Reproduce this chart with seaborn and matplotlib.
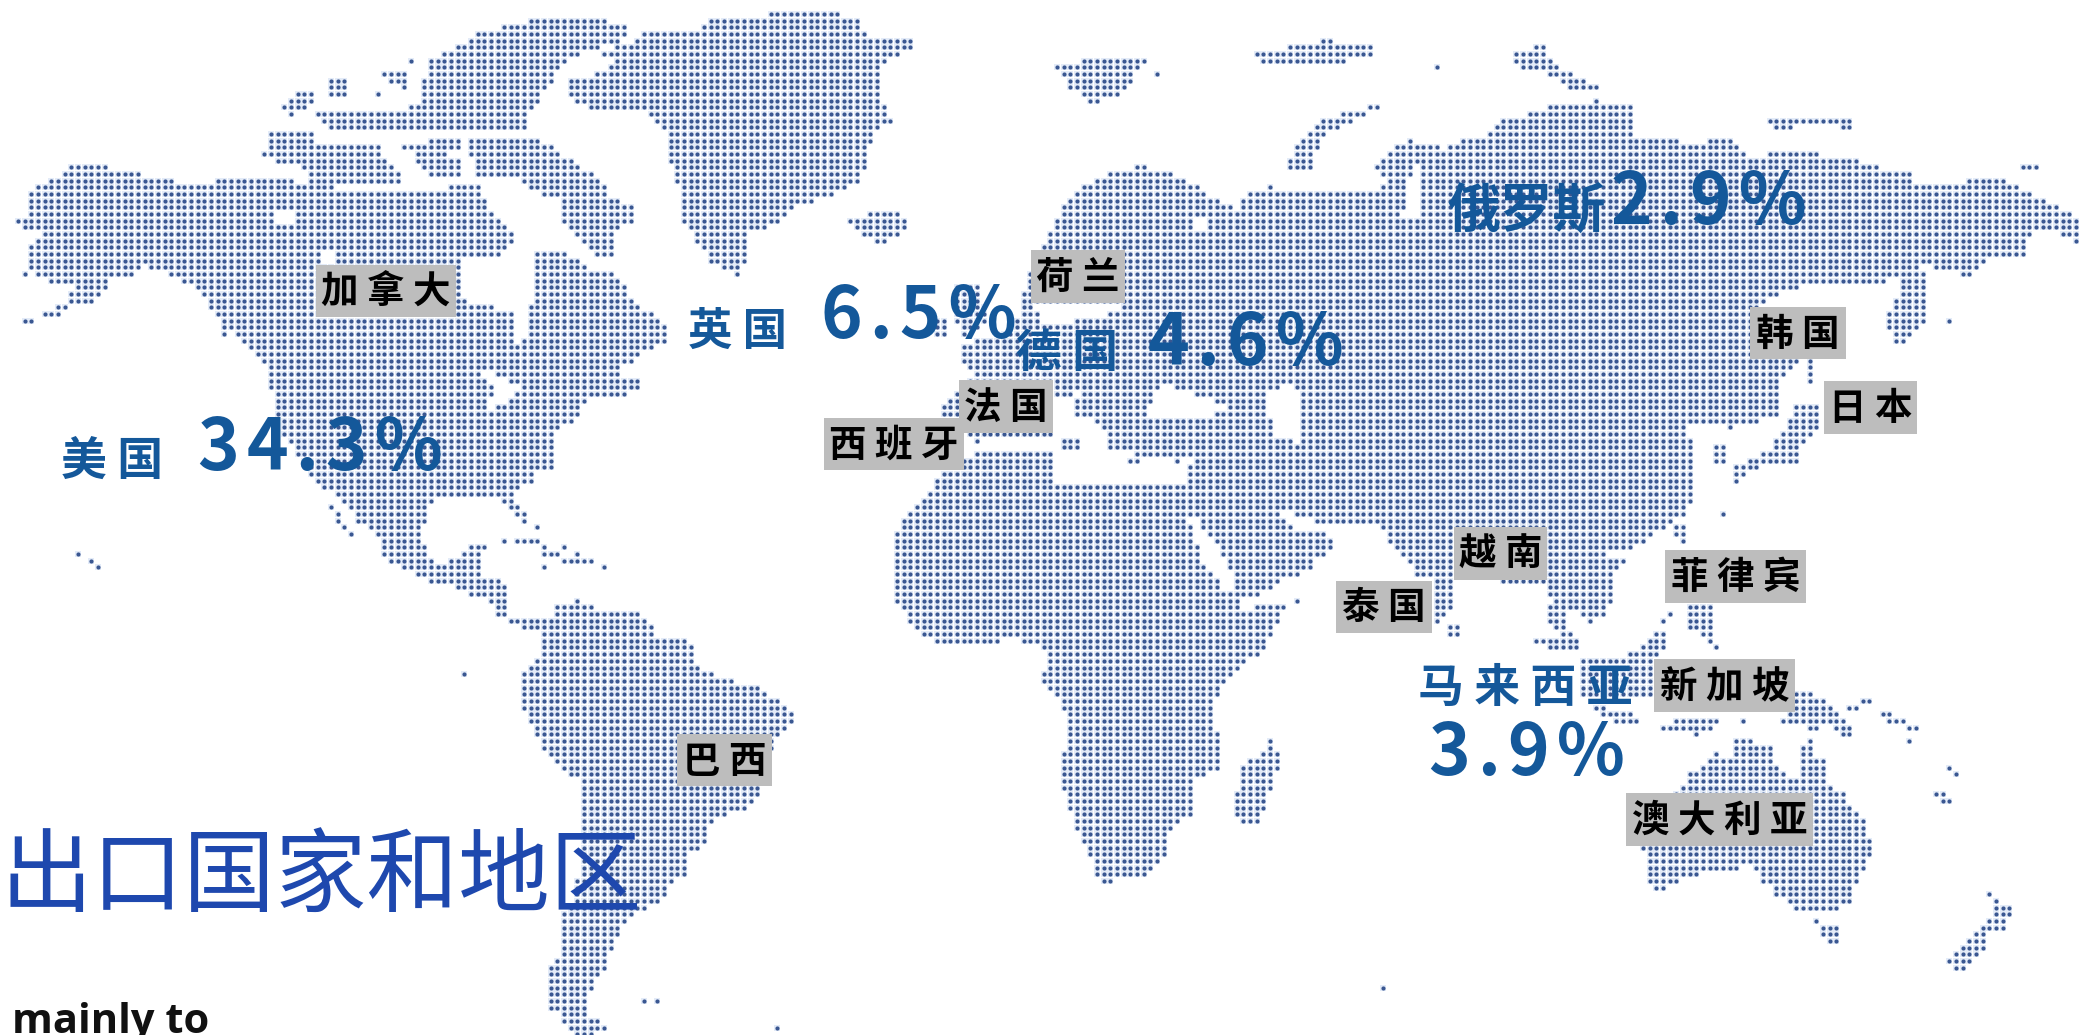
import numpy as np, pandas as pd
import matplotlib
matplotlib.use("Agg")
import matplotlib.pyplot as plt
from matplotlib.path import Path
from matplotlib.patches import Rectangle
import seaborn as sns

W, H = 2079, 1035
PX, PY, X0, Y0 = 6.66, 6.67, -2.0, 0.5

# outline frames: origin x, origin y, scale x, scale y
Z1=(0,750,2.24,3); Z2=(700,220,2.24,3); Z3=(1300,520,2.613,3); Z4=(0,0,2.24,3); Z5=(260,0,1.96,3)
Z6=(1000,0,1.453,2.9); Z7=(860,480,3,3); Z9=(1600,680,3,3); Z10=(250,480,2.8,3); Z11=(1200,380,2.8,3); ZS=(0,0,0.7541,0.7541)

LAND = [
 (Z4,[(32,660),(62,640),(62,580),(105,540),(135,520),(165,495),(210,495),(285,515),(375,535),(420,558),(510,535),(640,535),(690,555),(860,575),(1075,555),(1085,590),(1100,640),(1130,670),(1150,710),(1125,770),(1030,770),(1025,895),(1145,935),(1158,1025),(1190,1000),(1180,930),(1200,870),(1195,755),(1270,755),(1310,800),(1380,820),(1420,900),(1490,975),(1495,1025),(1445,1055),(1415,1090),(1375,1110),(1390,1130),(1430,1140),(1435,1170),(1385,1190),(1300,1205),(1300,1250),(1240,1300),(1240,1400),(1190,1430),(1190,1450),(710,1450),(630,1300),(610,1180),(590,1090),(560,1040),(520,990),(480,940),(440,860),(375,820),(320,800),(300,825),(240,825),(235,870),(215,910),(160,910),(130,945),(60,970),(50,990),(55,960),(100,935),(150,900),(170,860),(110,845),(75,825),(60,800),(60,750),(85,720),(95,700),(55,685),(35,672)]),
 (Z4,[(600,395),(700,395),(700,430),(850,430),(860,480),(900,520),(900,560),(700,560),(690,510),(640,490),(590,470),(600,420)]),
 (Z4,[(1050,420),(1210,420),(1280,480),(1340,530),(1370,590),(1415,620),(1415,670),(1370,690),(1370,770),(1330,770),(1290,700),(1250,670),(1250,600),(1180,570),(1170,540),(1060,525)]),
 (Z4,[(885,430),(1030,415),(1030,440),(990,475),(940,470)]),
 (Z4,[(925,480),(1030,480),(1030,535),(960,535)]),
 (Z4,[(735,240),(785,240),(785,290),(735,290)]),
 (Z4,[(855,220),(920,220),(920,270),(880,250)]),
 (Z4,[(630,320),(665,280),(710,280),(710,310),(650,345)]),
 (Z4,[(700,330),(950,320),(950,390),(740,390)]),
 (Z4,[(960,180),(1040,130),(1060,100),(1180,60),(1350,60),(1415,85),(1385,130),(1310,150),(1260,200),(1220,270),(1190,330),(1175,395),(940,395),(950,240)]),
 (Z5,[(880,60),(1000,40),(1135,40),(1175,60),(1185,100),(1290,125),(1250,170),(1210,200),(1215,300),(1240,365),(1200,400),(1185,510),(1170,545),(1120,585),(1060,610),(1015,670),(960,700),(950,790),(935,825),(880,790),(860,730),(825,660),(825,570),(810,520),(800,470),(795,400),(760,340),(640,325),(605,290),(605,240),(670,215),(695,190),(670,160),(735,120),(750,100),(855,85)]),
 (Z5,[(1150,660),(1190,640),(1260,640),(1275,680),(1220,730),(1180,700)]),
 (Z10,[(180,-5),(755,-5),(755,40),(725,50),(770,100),(770,130),(755,130),(725,80),(690,45),(620,45),(510,60),(490,130),(470,160),(490,190),(490,225),(510,245),(590,240),(610,200),(660,200),(640,240),(640,290),(695,300),(715,325),(715,420),(690,405),(690,385),(670,365),(610,345),(575,320),(555,305),(510,305),(470,290),(425,265),(385,245),(365,215),(370,180),(330,140),(295,125),(295,100),(255,65),(240,50),(180,10)]),
 (Z10,[(200,40),(225,60),(245,100),(265,130),(285,165),(270,165),(255,140),(235,105),(220,80),(200,50)]),
 (Z10,[(705,425),(850,410),(850,380),(950,380),(1085,400),(1125,440),(1145,470),(1215,480),(1235,500),(1255,550),(1290,580),(1345,600),(1420,620),(1480,660),(1520,700),(1510,735),(1470,770),(1465,800),(1425,920),(1420,950),(1385,985),(1330,1005),(1280,1030),(1280,1090),(1220,1130),(1220,1200),(925,1200),(925,900),(870,870),(830,820),(795,760),(780,720),(760,690),(760,590),(795,540),(815,520),(815,460),(760,445),(705,430)]),
 (Z1,[(1280,380),(1540,380),(1530,370),(1470,460),(1400,510),(1385,560),(1370,600),(1345,680),(1320,720),(1310,790),(1370,830),(1320,860),(1290,860),(1255,800),(1230,770),(1228,650),(1250,620),(1255,500),(1280,460)]),
 (Z7,[(210,60),(140,100),(120,140),(100,180),(100,360),(125,390),(160,440),(220,485),(375,485),(480,480),(540,495),(565,520),(565,560),(540,590),(565,625),(600,670),(620,720),(620,790),(600,820),(600,905),(625,960),(640,1040),(665,1080),(700,1160),(720,1205),(750,1205),(855,1185),(910,1125),(935,1040),(995,1000),(995,960),(1010,900),(1075,865),(1075,760),(1055,700),(1075,630),(1115,585),(1150,550),(1215,510),(1250,430),(1275,385),(1315,360),(1200,375),(1140,395),(1135,365),(1110,330),(1060,280),(1020,240),(1010,180),(970,100),(960,0),(215,0)]),
 (Z7,[(1000,0),(1210,0),(1220,30),(1260,60),(1290,130),(1320,130),(1390,150),(1415,180),(1415,205),(1370,240),(1350,265),(1270,300),(1195,345),(1120,345),(1060,200),(1000,90)]),
 (Z7,[(1230,775),(1255,820),(1255,850),(1230,930),(1215,985),(1195,1030),(1140,1030),(1120,990),(1120,960),(1140,900),(1140,860),(1190,830),(1225,800)]),
 (Z2,[(745,100),(950,90),(1010,0),(1568,0),(1568,900),(470,900),(490,850),(530,790),(555,740),(610,700),(630,690),(590,640),(540,590),(540,560),(580,500),(620,470),(590,440),(590,370),(680,330),(740,310),(760,260)]),
 (Z2,[(575,190),(620,190),(640,260),(650,310),(590,345),(575,300)]),
 (Z2,[(525,290),(555,290),(555,360),(525,360)]),
 (Z6,[(200,480),(235,490),(290,545),(325,590),(350,610),(355,560),(395,540),(420,560),(540,560),(560,520),(545,490),(560,440),(590,405),(650,430),(670,405),(710,390),(725,350),(810,305),(870,290),(915,310),(925,395),(1000,410),(1060,405),(1085,450),(1150,440),(1220,450),(1290,490),(1325,500),(1330,530),(1380,530),(1420,520),(1460,520),(1500,560),(1568,630),(1568,710),(1530,670),(1490,680),(1490,740),(1440,750),(1410,800),(1340,770),(1350,880),(1340,950),(1295,1015),(1290,900),(1310,830),(1310,790),(1280,830),(1170,830),(1130,850),(1100,890),(1090,1040),(1170,1040),(1130,1100),(1130,1210),(1060,1240),(1010,1225),(985,1235),(1000,1265),(1010,1300),(1000,1500),(500,1500),(0,1100),(40,800),(100,570),(135,520),(165,500)]),
 (Z6,[(560,295),(570,290),(520,340),(490,370),(470,400),(450,490),(420,490),(420,460),(440,400),(460,350),(510,320)]),
 (Z6,[(80,190),(130,170),(210,175),(190,240),(170,285),(130,295),(100,250)]),
 (Z6,[(370,155),(470,115),(540,130),(540,160),(480,185),(370,175)]),
 (Z6,[(745,140),(790,135),(810,190),(880,260),(820,260),(815,225),(750,190)]),
 (Z6,[(1115,345),(1180,330),(1240,350),(1240,375),(1180,360),(1130,375)]),
 (Z6,[(1480,485),(1510,480),(1510,495),(1480,495)]),
 (Z6,[(1155,1170),(1195,1170),(1195,1220),(1160,1300),(1160,1340),(1090,1360),(1065,1420),(1065,1360),(1120,1300),(1140,1240)]),
 (Z6,[(1040,1290),(1060,1280),(1060,1340),(1040,1340)]),
 (Z6,[(1170,1045),(1182,1045),(1182,1115),(1170,1115)]),
 (Z11,[(0,0),(1360,0),(1360,400),(1310,430),(1250,490),(1190,510),(1130,520),(1190,540),(1150,600),(1150,660),(1130,705),(1090,730),(1050,690),(1000,680),(970,650),(970,440),(505,440),(370,430),(300,420),(240,380),(0,330)]),
 (Z11,[(1330,440),(1355,440),(1355,490),(1330,470)]),
 (Z11,[(505,440),(970,440),(970,605),(710,600),(710,690),(650,740),(650,600),(600,600),(590,560),(520,480)]),
 (Z11,[(690,725),(725,725),(725,770),(690,770)]),
 (Z3,[(810,120),(850,120),(830,145)]),
 (Z3,[(645,240),(690,260),(700,330),(725,350),(725,400),(660,400),(610,360),(650,350),(680,340),(650,300)]),
 (Z3,[(930,340),(950,340),(950,400),(920,420),(920,530),(735,540),(735,420),(800,420),(870,400)]),
 (Z3,[(770,555),(860,575),(915,600),(840,610),(790,590)]),
 (Z3,[(945,605),(1090,595),(1090,610),(1070,625),(945,625)]),
 (Z3,[(1010,260),(1075,260),(1075,340),(1090,385),(1060,360),(1010,320)]),
 (Z9,[(585,40),(630,40),(700,80),(715,110),(770,160),(720,170),(700,130),(630,150),(600,130),(545,125),(560,100),(585,90)]),
 (Z9,[(725,85),(775,75),(775,92),(725,92)]),
 (Z9,[(785,40),(810,60),(810,70),(785,70)]),
 (Z9,[(845,80),(870,100),(915,125),(870,130),(845,105)]),
 (Z9,[(925,140),(950,140),(950,150),(925,150)]),
 (Z9,[(405,180),(450,180),(515,200),(515,235),(535,260),(580,300),(600,295),(600,195),(630,180),(635,235),(670,240),(675,300),(690,320),(730,340),(750,385),(790,420),(815,480),(815,525),(790,570),(770,600),(755,665),(710,690),(585,690),(560,660),(520,640),(520,615),(480,600),(460,560),(370,565),(295,585),(235,605),(190,630),(165,630),(140,600),(140,510),(90,495),(240,330),(260,280),(320,245),(345,220),(400,235)]),
 (Z9,[(645,720),(715,740),(715,788),(685,788),(660,765)]),
 (Z9,[(1165,620),(1190,660),(1250,680),(1230,705),(1210,745),(1150,770),(1150,805),(1110,850),(1090,868),(1060,868),(1040,845),(1080,800),(1120,760),(1165,730),(1180,680),(1165,645)]),
 (Z9,[(1045,240),(1070,265),(1070,288),(1045,265)]),
]
WATER = [
 (Z4,[(615,640),(660,640),(660,670),(620,670)]),
 (Z4,[(725,760),(745,760),(745,782),(725,782)]),
 (Z4,[(1065,1105),(1130,1130),(1170,1170),(1150,1190),(1095,1235),(1085,1200),(1110,1170),(1080,1135)]),
 (Z2,[(750,250),(950,250),(940,270),(860,300),(760,310)]),
 (Z2,[(625,695),(620,655),(800,650),(800,688)]),
 (Z2,[(790,700),(800,530),(850,520),(875,600),(905,640),(915,700),(960,690),(990,710),(1100,720),(1090,785),(790,785)]),
 (Z2,[(1000,560),(1040,490),(1080,510),(1180,560),(1130,600),(1000,600)]),
 (Z2,[(1295,490),(1340,510),(1345,680),(1310,650),(1290,570)]),
 (Z6,[(275,625),(310,625),(290,680)]),
 (Z6,[(600,470),(612,470),(612,620),(585,625)]),
 (Z11,[(190,20),(260,60),(260,180),(200,170)]),
 (Z11,[(190,340),(240,395),(320,430),(300,470),(250,430)]),
 (Z11,[(0,450),(40,470),(110,640),(70,630),(0,530)]),
]
LAND_OVER = [
 (Z2,[(810,655),(850,655),(850,690),(810,690)]),
 (Z2,[(835,535),(860,535),(870,590),(845,590)]),
 (Z2,[(925,615),(945,615),(945,690),(925,690)]),
 (Z2,[(955,712),(985,712),(985,728),(955,728)]),
 (Z2,[(1055,712),(1075,712),(1075,728),(1055,728)]),
]
ISLETS = [
 (Z4,[(50,823),(500,985),(500,1005),(925,183),(845,283)]),
 (Z10,[(597,583),(710,183),(745,183),(765,183),(785,183),(805,183),(800,143),(815,203),(875,203),(820,223),(840,223),(860,223),(915,223),(875,243),(895,243),(915,243),(935,243),(955,243),(820,263),(990,263),(915,363)]),
 (Z3,[(945,300),(965,285),(1155,603),(1030,640)]),
 (Z9,[(288,163),(428,123),(925,183),(1005,342),(1025,362),(1050,362)]),
 (Z6,[(630,198),(1380,933),(1050,1495),(225,215)]),
 (ZS,[(60,418),(68,424),(75,428),(485,755),(495,755),(1045,745),(585,775),(1470,578),(1465,600)]),
]

# shares of exports and labels
SHARE_NAMES = ["美 国", "英 国", "德 国", "俄罗斯", "马 来 西 亚"]
SHARE_SIZES = [33, 32, 33, 38, 33]
SHARE_VALUES = ["3\u200a4\u200a.\u200a3\u200a%", "6\u200a.\u200a5\u200a%", "4\u200a.\u200a6\u200a%", "2\u200a.\u200a9\u200a%", "3\u200a.\u200a9\u200a%"]
NAME_BOX = [(62,163,475), (687,789,345), (1017,1117,367), (1447,1606,228), (1420,1631,702)]
VALUE_BOX = [(200,440,470), (825,1012,338), (1151,1341,365), (1612,1805,224), (1432,1621,775)]
COUNTRY_LABELS = ["加 拿 大","荷 兰","韩 国","日 本","法 国","西 班 牙","巴 西","泰 国","越 南","菲 律 宾","新 加 坡","澳 大 利 亚"]
COUNTRY_BOXES = [(316,456,265,317),(1031,1125,250,303),(1750,1846,307,359),(1824,1917,381,434),(959,1053,380,433),(824,964,418,470),(677,772,734,786),(1336,1432,581,633),(1454,1547,527,580),(1665,1806,550,603),(1654,1795,659,712),(1626,1813,793,846)]
TITLE = "出口国家和地区"
FOOT = "mainly to"

def full(frame, pts):
    ox, oy, kx, ky = frame
    a = np.array(pts, float)
    return np.c_[ox + a[:,0]/kx, oy + a[:,1]/ky]

xs = X0 + PX*np.arange(int(W/PX)+2)
ys = Y0 + PY*np.arange(int(H/PY)+2)
gx, gy = np.meshgrid(xs, ys)
nodes = np.c_[gx.ravel(), gy.ravel()]
mask = np.zeros(len(nodes), bool)
for f, p in LAND:
    mask |= Path(full(f, p)).contains_points(nodes)
for f, p in WATER:
    mask &= ~Path(full(f, p)).contains_points(nodes)
for f, p in LAND_OVER:
    mask |= Path(full(f, p)).contains_points(nodes)
for f, p in ISLETS:
    q = full(f, p)
    ix = np.rint((q[:,0]-X0)/PX).astype(int); iy = np.rint((q[:,1]-Y0)/PY).astype(int)
    mask[iy*gx.shape[1]+ix] = True
dots = pd.DataFrame(nodes[mask], columns=["x","y"])

sns.set_theme(style="white")
plt.rcParams['font.family'] = ['Noto Sans CJK SC', 'DejaVu Sans']
fig = plt.figure(figsize=(W/100, H/100), dpi=100, facecolor="white")
ax = fig.add_axes([0,0,1,1])
sns.scatterplot(data=dots, x="x", y="y", ax=ax, s=24, marker="s", color="#e3ebf8", linewidth=0, legend=False, zorder=1)
sns.scatterplot(data=dots, x="x", y="y", ax=ax, s=9, marker="o", color="#3a5791", linewidth=0, legend=False, zorder=2)
ax.set_xlim(0, W); ax.set_ylim(H, 0); ax.axis("off")

BLUE = "#14589a"
for name, size, b in zip(SHARE_NAMES, SHARE_SIZES, NAME_BOX):
    ax.text((b[0]+b[1])/2, b[2], name, ha="center", va="baseline", color=BLUE, fontsize=size, fontweight="bold", zorder=5)
for val, b in zip(SHARE_VALUES, VALUE_BOX):
    ax.text((b[0]+b[1])/2, b[2], val, ha="center", va="baseline", color=BLUE, fontsize=51, fontweight="bold", zorder=5)
for lab, b in zip(COUNTRY_LABELS, COUNTRY_BOXES):
    ax.add_patch(Rectangle((b[0], b[2]), b[1]-b[0], b[3]-b[2], facecolor="#bdbdbd", edgecolor="none", zorder=6))
    ax.text((b[0]+b[1])/2, (b[2]+b[3])/2+1, lab, ha="center", va="center", color="black", fontsize=27, fontweight="bold", zorder=7)
ax.text(321, 905, TITLE, ha="center", va="baseline", color="#1e48ae", fontsize=66, fontweight="regular", zorder=8)
ax.text(12, 1033, FOOT, ha="left", va="baseline", color="#111111", fontsize=30, fontweight="bold", family=["Open Sans","DejaVu Sans"], zorder=8, clip_on=False)
fig.savefig("out.png", dpi=100, facecolor="white")
